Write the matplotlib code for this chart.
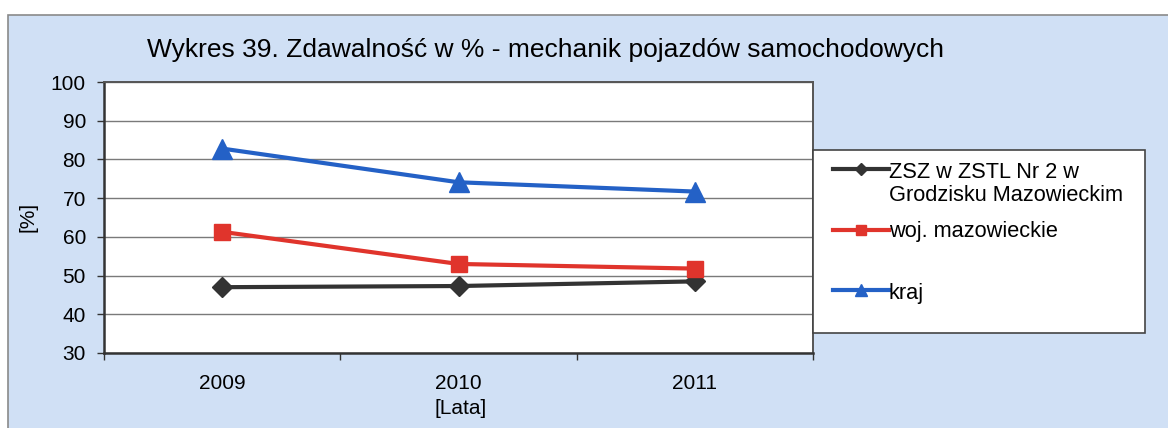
import matplotlib.pyplot as plt
from matplotlib.patches import Rectangle
from matplotlib.lines import Line2D

plt.rcParams['font.family'] = ['Liberation Sans', 'DejaVu Sans']

years = ['2009', '2010', '2011']
szkola = [47.0, 47.3, 48.5]
wojewodztwo = [61.3, 53.0, 51.8]
kraj = [82.8, 74.1, 71.7]

series_labels = ['ZSZ w ZSTL Nr 2 w\nGrodzisku Mazowieckim', 'woj. mazowieckie', 'kraj']
series_colors = ['#333333', '#e0342c', '#2461c6']
series_markers = ['D', 's', '^']
series_sizes = [10, 11, 14]

W, H = 1168, 428
fig = plt.figure(figsize=(W / 100, H / 100), dpi=100, facecolor='white')

# light blue chart area with a thin frame
fig.patches.append(Rectangle((8 / W, -0.02), 1.05, (H - 15) / H + 0.02,
                             transform=fig.transFigure, facecolor='#d0e0f5',
                             edgecolor='#8a8a8a', linewidth=1.2, zorder=-1))

ax = fig.add_axes([104 / W, (H - 353) / H, (813 - 104) / W, (353 - 82) / H])
ax.set_facecolor('white')

x = range(len(years))
for vals, col, mk, ms in zip([szkola, wojewodztwo, kraj], series_colors, series_markers, series_sizes):
    ax.plot(x, vals, color=col, linewidth=3, marker=mk, markersize=ms, zorder=3)

ax.set_xlim(-0.5, len(years) - 0.5)
ax.set_ylim(30, 100)
ax.set_yticks(range(30, 101, 10))
ax.grid(axis='y', color='#7a7a7a', linewidth=1)
ax.set_axisbelow(True)

# category axis: ticks between categories, labels centred on them
ax.set_xticks([i - 0.5 for i in range(len(years) + 1)])
ax.set_xticklabels([])
ax.set_xticks(list(x), minor=True)
ax.set_xticklabels(years, minor=True)
ax.tick_params(axis='x', which='major', direction='out', length=5, width=1, color='#333333')
ax.tick_params(axis='x', which='minor', length=0, pad=15, labelsize=15)
ax.tick_params(axis='y', direction='out', length=5, width=1, color='#333333', pad=8, labelsize=15)

for side in ['left', 'bottom']:
    ax.spines[side].set_color('#333333')
    ax.spines[side].set_linewidth(1.8)
for side in ['top', 'right']:
    ax.spines[side].set_color('#555555')
    ax.spines[side].set_linewidth(1.4)

fig.text(28 / W, 1 - 217 / H, '[%]', rotation=90, ha='center', va='center', fontsize=15)
fig.text(461 / W, 1 - 408 / H, '[Lata]', ha='center', va='center', fontsize=15)
fig.text(147 / W, 1 - 50 / H, 'Wykres 39. Zdawalność w % - mechanik pojazdów samochodowych',
         ha='left', va='center', fontsize=19)

# legend box drawn by hand to keep the uneven entry spacing
fig.patches.append(Rectangle((813 / W, 1 - 333 / H), 332 / W, 183 / H,
                             transform=fig.transFigure, facecolor='white',
                             edgecolor='#444444', linewidth=1.2, zorder=5))
handle_y = [169, 230, 290]
text_y = [184, 231, 294]
for lab, col, mk, ms, hy, ty in zip(series_labels, series_colors, series_markers, series_sizes, handle_y, text_y):
    fig.lines.append(Line2D([833 / W, 889 / W], [1 - hy / H, 1 - hy / H], transform=fig.transFigure,
                            color=col, linewidth=3, zorder=6))
    fig.lines.append(Line2D([861 / W], [1 - hy / H], transform=fig.transFigure, color=col,
                            marker=mk, markersize=ms * 0.6, zorder=7))
    fig.text(889 / W, 1 - ty / H, lab, ha='left', va='center', fontsize=15.7, linespacing=1.08, zorder=8)

fig.savefig('out.png', dpi=100, facecolor='white')
